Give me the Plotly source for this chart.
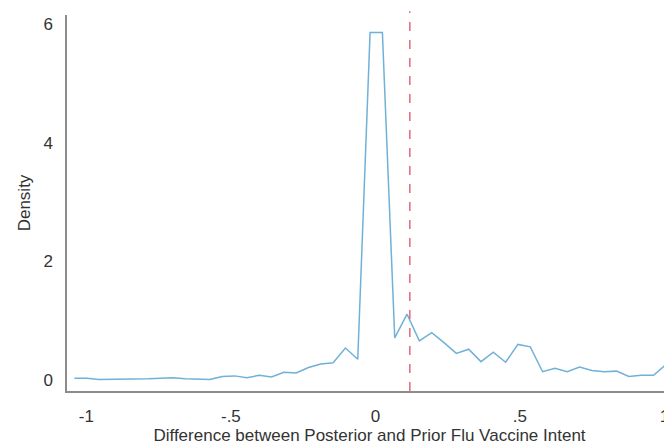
import plotly.graph_objects as go

# Bin midpoints (difference between posterior and prior intent)
diff_x = [-1.0416, -0.9990, -0.9564, -0.9137, -0.8711, -0.8285, -0.7859, -0.7432,
          -0.7006, -0.6580, -0.6153, -0.5727, -0.5301, -0.4874, -0.4448, -0.4022,
          -0.3595, -0.3169, -0.2743, -0.2317, -0.1890, -0.1464, -0.1038, -0.0611,
          -0.0185, 0.0241, 0.0668, 0.1094, 0.1520, 0.1947, 0.2373, 0.2799,
          0.3225, 0.3652, 0.4078, 0.4504, 0.4931, 0.5357, 0.5783, 0.6210,
          0.6636, 0.7062, 0.7488, 0.7915, 0.8341, 0.8767, 0.9194, 0.9620,
          1.0046, 1.0472]

density = [0.03, 0.03, 0.01, 0.01, 0.01, 0.02, 0.02, 0.03,
           0.04, 0.02, 0.01, 0.01, 0.06, 0.07, 0.04, 0.08,
           0.05, 0.13, 0.12, 0.21, 0.27, 0.29, 0.54, 0.35,
           5.86, 5.86, 0.71, 1.11, 0.66, 0.80, 0.63, 0.45,
           0.52, 0.31, 0.47, 0.30, 0.60, 0.56, 0.14, 0.20,
           0.14, 0.22, 0.16, 0.14, 0.15, 0.06, 0.08, 0.08,
           0.26, 0.23]

mean_diff = 0.119

x_tickvals = [-1, -0.5, 0, 0.5, 1]
x_ticktext = ["-1", "-.5", "0", ".5", "1"]
y_tickvals = [0, 2, 4, 6]
y_ticktext = ["0", "2", "4", "6"]

FONT = "Liberation Sans, Arial, sans-serif"

fig = go.Figure()
fig.add_trace(go.Scatter(
    x=diff_x, y=density, mode="lines",
    line=dict(color="#70b1d8", width=1.5),
    showlegend=False, hoverinfo="skip",
))
fig.add_shape(type="line", xref="x", yref="paper",
              x0=mean_diff, x1=mean_diff, y0=0, y1=1.01,
              line=dict(color="#e26a7c", width=1.5, dash="dash"))

# page body has an 8px margin, so the figure is 8px smaller and offset
fig.update_layout(
    width=664, height=438,
    margin=dict(l=59, r=0, t=7, b=55),
    paper_bgcolor="white", plot_bgcolor="white",
    font=dict(family=FONT, size=17, color="#333333"),
    xaxis=dict(
        range=[-1.067, 1.026], automargin=False,
        tickvals=x_tickvals, ticktext=x_ticktext,
        showgrid=False, zeroline=False,
        showline=True, linecolor="#8c8c8c", linewidth=1.5,
        ticks="outside", ticklen=9, tickcolor="rgba(0,0,0,0)",
        tickfont=dict(size=17, family=FONT, color="#333333"),
        title=dict(text="Difference between Posterior and Prior Flu Vaccine Intent",
                   font=dict(size=17, family=FONT, color="#333333"), standoff=2),
    ),
    yaxis=dict(
        range=[-0.185, 6.155], automargin=False,
        tickvals=y_tickvals, ticktext=y_ticktext,
        showgrid=False, zeroline=False,
        showline=True, linecolor="#8c8c8c", linewidth=1.5,
        ticks="outside", ticklen=9, tickcolor="rgba(0,0,0,0)",
        tickfont=dict(size=17, family=FONT, color="#333333"),
        title=dict(text="Density", font=dict(size=17, family=FONT, color="#333333"),
                   standoff=8),
    ),
)

fig.write_html("out.html")
